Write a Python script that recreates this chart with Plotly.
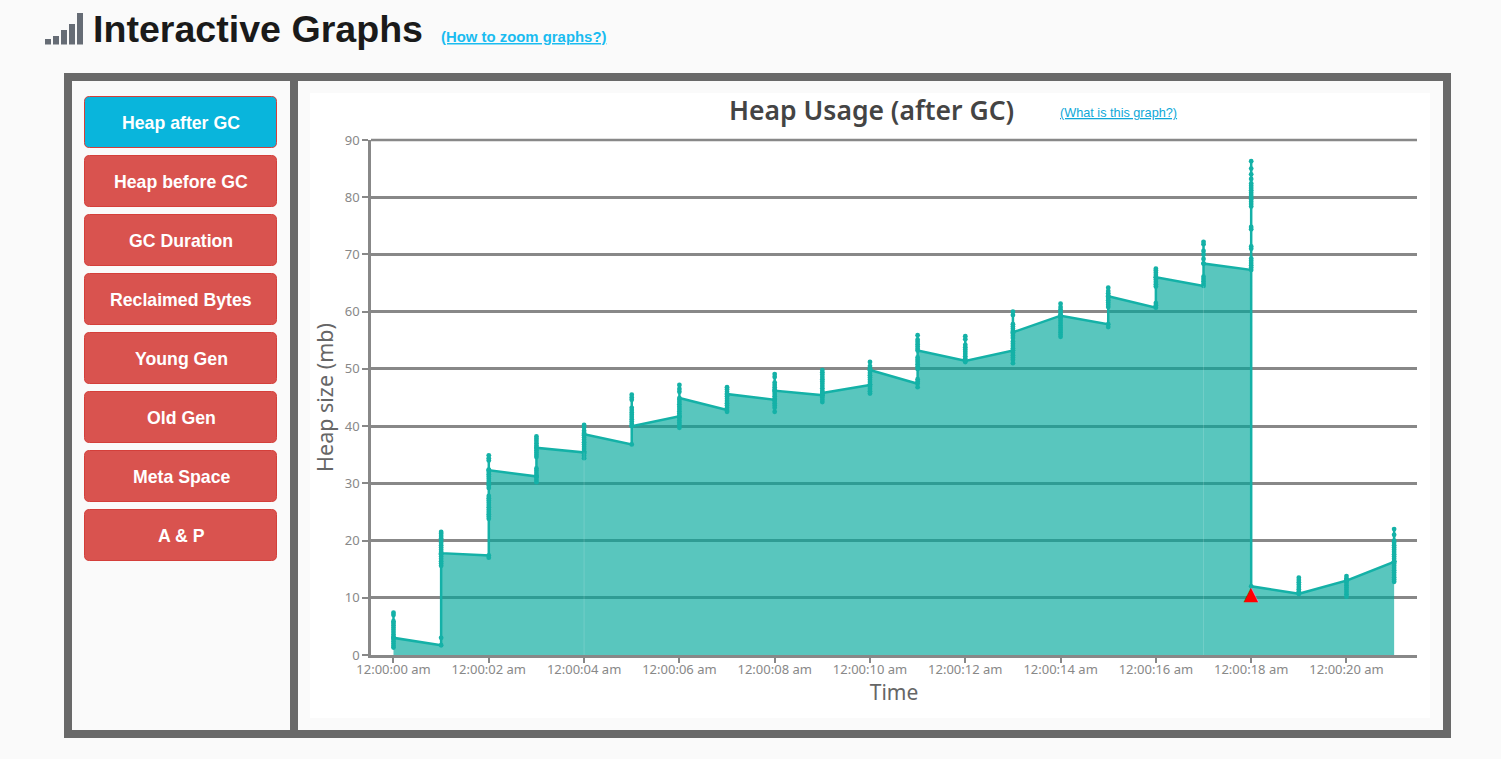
import plotly.graph_objects as go

W, H = 1501, 759

# ---- data ----
heap_seconds = list(range(22))
heap_t0 = [1.3, 1.6, 2.0, 2.4, 2.8, 3.2, 3.6, 4.0, 4.4, 4.8, 5.2, 5.6, 5.9, 7.0, 7.4, 3.0]
heap_t1 = [1.7, 3.0, 15.6, 16.0, 16.4, 16.8, 17.2, 17.6, 18.0, 18.4, 18.8, 19.2, 19.6, 20.0, 20.4, 20.8, 21.2, 21.5, 17.8]
heap_t2 = [17.4, 17.0, 23.8, 24.2, 24.6, 25.0, 25.4, 25.8, 26.2, 26.6, 27.0, 27.4, 27.8, 29.2, 29.6, 30.0, 30.4, 30.8, 31.2, 31.6, 32.0, 32.4, 34.0, 34.4, 34.9, 32.3]
heap_t3 = [31.2, 30.2, 30.6, 31.0, 31.4, 31.8, 32.2, 32.6, 34.6, 35.0, 35.4, 35.8, 36.2, 36.6, 37.0, 37.4, 37.8, 38.2, 36.2]
heap_t4 = [35.4, 34.4, 34.8, 35.2, 35.6, 36.0, 36.4, 36.8, 37.2, 37.6, 38.0, 38.4, 38.8, 39.2, 39.8, 40.2, 38.6]
heap_t5 = [36.8, 40.0, 40.4, 40.8, 41.2, 41.6, 42.0, 42.4, 42.8, 43.2, 44.6, 45.0, 45.5, 40.0]
heap_t6 = [41.7, 39.7, 40.2, 40.6, 41.0, 41.4, 41.8, 42.2, 42.6, 43.0, 43.4, 43.8, 44.2, 44.6, 46.0, 46.5, 47.2, 44.9]
heap_t7 = [42.8, 42.5, 43.2, 43.6, 44.0, 44.4, 44.8, 45.2, 45.6, 46.0, 46.4, 46.8, 45.6]
heap_t8 = [44.6, 42.5, 43.2, 43.6, 44.0, 44.4, 44.8, 45.2, 45.6, 46.0, 46.4, 46.8, 47.2, 47.6, 48.6, 49.1, 46.2]
heap_t9 = [45.4, 44.2, 44.6, 45.0, 45.4, 45.8, 46.2, 46.6, 47.0, 47.4, 47.8, 48.2, 48.6, 49.0, 49.4, 49.8, 45.8]
heap_t10 = [47.2, 45.7, 46.1, 46.5, 46.9, 47.3, 47.7, 48.1, 48.5, 48.9, 49.3, 49.7, 50.1, 50.5, 51.2, 49.8]
heap_t11 = [47.4, 46.8, 47.8, 48.2, 50.0, 50.4, 50.8, 51.2, 51.6, 52.0, 53.5, 53.9, 54.3, 54.7, 55.1, 55.9, 53.2]
heap_t12 = [51.4, 51.2, 51.8, 52.2, 52.6, 53.0, 53.4, 53.8, 54.2, 55.2, 55.7, 51.4]
heap_t13 = [53.2, 51.0, 51.6, 52.0, 52.4, 52.8, 53.2, 53.6, 54.0, 54.4, 54.8, 55.4, 55.8, 56.2, 56.6, 57.0, 57.4, 57.8, 59.4, 60.0, 56.4]
heap_t14 = [59.3, 55.6, 56.0, 56.4, 56.8, 57.2, 57.6, 58.0, 58.4, 58.8, 59.2, 59.6, 60.0, 60.4, 60.8, 61.4, 59.3]
heap_t15 = [57.8, 57.3, 60.8, 61.2, 61.6, 62.0, 62.4, 62.8, 63.2, 63.6, 64.2, 62.7]
heap_t16 = [60.7, 61.1, 61.5, 64.4, 64.8, 65.2, 65.6, 66.0, 66.4, 66.8, 67.2, 67.5, 66.0]
heap_t17 = [64.5, 64.9, 65.3, 65.7, 66.1, 68.4, 69.2, 70.0, 70.6, 71.8, 72.2, 68.4]
heap_t18 = [67.3, 67.7, 68.1, 68.5, 68.9, 69.3, 71.0, 71.4, 74.4, 74.8, 78.4, 78.8, 79.2, 79.6, 80.0, 80.4, 80.8, 81.2, 81.6, 82.0, 82.4, 83.2, 84.0, 85.0, 86.3, 12.0]
heap_t19 = [10.7, 11.1, 11.5, 11.9, 12.3, 12.7, 13.1, 13.5, 10.7]
heap_t20 = [13.0, 10.2, 10.6, 11.0, 11.4, 11.8, 12.2, 12.6, 13.0, 13.4, 13.8, 13.0]
heap_t21 = [16.3, 12.8, 13.2, 13.6, 14.0, 14.4, 14.8, 15.2, 15.6, 16.0, 16.4, 16.8, 17.2, 17.6, 18.0, 18.4, 18.8, 19.2, 19.6, 20.0, 21.0, 22.0, 16.3]
heap_groups = [heap_t0, heap_t1, heap_t2, heap_t3, heap_t4, heap_t5, heap_t6, heap_t7, heap_t8, heap_t9, heap_t10,
               heap_t11, heap_t12, heap_t13, heap_t14, heap_t15, heap_t16, heap_t17, heap_t18, heap_t19, heap_t20, heap_t21]

alert_seconds = [18]
alert_values = [10.4]
seam_seconds = [4, 17]
seam_tops = [35.4, 64.5]

x_tick_vals = [0, 2, 4, 6, 8, 10, 12, 14, 16, 18, 20]
x_tick_text = ["12:00:00 am", "12:00:02 am", "12:00:04 am", "12:00:06 am", "12:00:08 am", "12:00:10 am",
               "12:00:12 am", "12:00:14 am", "12:00:16 am", "12:00:18 am", "12:00:20 am"]
button_labels = ["Heap after GC", "Heap before GC", "GC Duration", "Reclaimed Bytes", "Young Gen", "Old Gen",
                 "Meta Space", "A & P"]

# ---- helpers ----
px = lambda v: v / W
py = lambda v: 1 - v / H


def rect(x0, y0, x1, y1, fill, line=None, lw=0, layer="below"):
    return dict(type="rect", xref="paper", yref="paper", x0=px(x0), x1=px(x1), y0=py(y0), y1=py(y1),
                fillcolor=fill, line=dict(color=line or fill, width=lw), layer=layer)


def round_rect(x0, y0, x1, y1, r, fill, line):
    X0, X1, Y0, Y1 = px(x0), px(x1), py(y0), py(y1)
    rx, ry = r / W, r / H
    path = (f"M {X0+rx} {Y0} L {X1-rx} {Y0} Q {X1} {Y0} {X1} {Y0-ry} L {X1} {Y1+ry} Q {X1} {Y1} {X1-rx} {Y1} "
            f"L {X0+rx} {Y1} Q {X0} {Y1} {X0} {Y1+ry} L {X0} {Y0-ry} Q {X0} {Y0} {X0+rx} {Y0} Z")
    return dict(type="path", xref="paper", yref="paper", path=path, fillcolor=fill,
                line=dict(color=line, width=1), layer="below")


def text(x, y, s, size, color, family, xanchor="center", weight=None):
    font = dict(size=size, color=color, family=family)
    if weight:
        font["weight"] = weight
    return dict(xref="paper", yref="paper", x=px(x), y=py(y), text=s, showarrow=False, xanchor=xanchor,
                yanchor="middle", font=font)


# ---- traces ----
xs, ys = [], []
for sec, group in zip(heap_seconds, heap_groups):
    xs += [sec] * len(group)
    ys += group

fig = go.Figure()
fig.add_trace(go.Scatter(x=xs, y=ys, mode="lines+markers", fill="tozeroy", fillcolor="rgba(0,168,155,0.65)",
                         line=dict(color="#14B1A7", width=2.5), marker=dict(color="#14B1A7", size=4.8),
                         showlegend=False, hoverinfo="x+y"))
for sec, top in zip(seam_seconds, seam_tops):
    fig.add_trace(go.Scatter(x=[sec, sec], y=[0, top], mode="lines", showlegend=False, hoverinfo="skip",
                             line=dict(color="rgba(255,255,255,0.15)", width=1)))
fig.add_trace(go.Scatter(x=alert_seconds, y=alert_values, mode="text", text=["▲"], textposition="middle center",
                         textfont=dict(color="#FF0000", size=19, family="DejaVu Sans"), showlegend=False))

# ---- page furniture ----
shapes = [
    rect(64, 73, 1451, 738, "#696969"),
    rect(72, 81, 290, 730, "#FAFAFA"),
    rect(298, 81, 1443, 730, "#FAFAFA"),
    rect(310, 93, 1430, 718, "#FFFFFF"),
    rect(371, 138.8, 1417, 141.2, "#888888"),
]
for x0, x1, top in [(45, 51, 39), (53, 59, 36), (61, 67, 30), (69, 75, 24), (77, 83, 13)]:
    shapes.append(rect(x0, top, x1, 44.5, "#666C75"))
for i, lab in enumerate(button_labels):
    y0 = 96 + 59 * i
    shapes.append(round_rect(84.5, y0 + .5, 276.5, y0 + 51.5, 5,
                             "#09B5DC" if i == 0 else "#D9534F", "#D43F3A"))

sans = "Liberation Sans"
ann = [
    text(91, 29, "<b>Interactive Graphs</b>", 37.6, "#1A1A1A", sans, "left"),
    text(439, 37, "<b><u>(How to zoom graphs?)</u></b>", 14.9, "#1ABCF0", sans, "left"),
    text(871, 110, "Heap Usage (after GC)", 26.5, "#444444", "Noto Sans", weight=600),
    text(1058, 113.5, "<u>(What is this graph?)</u>", 12.7, "#0FA8D8", sans, "left"),
]
for i, lab in enumerate(button_labels):
    ann.append(text(181, 123 + 59 * i, "<b>" + lab.replace("&", "&amp;") + "</b>", 17.7, "#FFFFFF", sans))

GREY = "#888888"
fig.update_layout(
    width=W, height=H, margin=dict(l=0, r=0, t=0, b=0, autoexpand=False), paper_bgcolor="#FAFAFA",
    plot_bgcolor="rgba(0,0,0,0)", shapes=shapes, annotations=ann, showlegend=False,
    xaxis=dict(domain=[px(371), px(1417)], range=[-0.472, 21.48], tickmode="array", tickvals=x_tick_vals,
               ticktext=x_tick_text, showgrid=False, zeroline=False, showline=True, linecolor=GREY, linewidth=2.5,
               ticks="outside", ticklen=5, tickwidth=2, tickcolor=GREY, automargin=False, ticklabelstandoff=-4,
               tickfont=dict(size=13, color="#888888", family="Noto Sans"),
               title=dict(text="Time", font=dict(size=21, color="#666666", family="Noto Sans"), standoff=8)),
    yaxis=dict(domain=[py(655), py(140)], range=[0, 90], dtick=10, showgrid=True, gridcolor=GREY, gridwidth=2.5,
               zeroline=False, showline=True, linecolor=GREY, linewidth=2.5, ticks="outside", ticklen=6, tickwidth=2,
               tickcolor=GREY, automargin=False, tickfont=dict(size=13, color="#888888", family="Noto Sans"),
               title=dict(text="Heap size (mb)", font=dict(size=21.5, color="#666666", family="Noto Sans"), standoff=6)),
)

fig.write_html("out.html", config=dict(displayModeBar=False),
               post_script="document.body.style.margin='0';document.body.style.overflow='hidden';")
